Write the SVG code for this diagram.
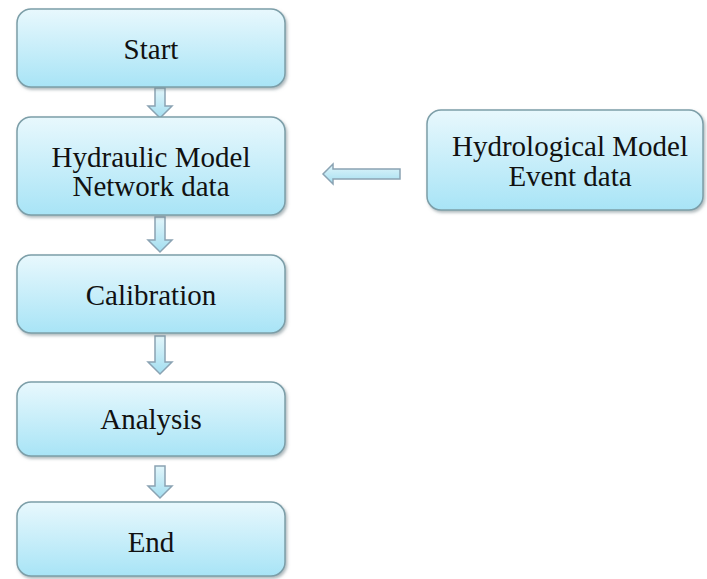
<svg xmlns="http://www.w3.org/2000/svg" width="707" height="579" viewBox="0 0 707 579">
  <defs>
    <linearGradient id="boxGrad" x1="0" y1="0" x2="0" y2="1">
      <stop offset="0" stop-color="#e8f8fd"/>
      <stop offset="1" stop-color="#a8e4f6"/>
    </linearGradient>
    <linearGradient id="arrowGrad" x1="0" y1="0" x2="0" y2="1">
      <stop offset="0" stop-color="#e2f6fb"/>
      <stop offset="1" stop-color="#a3def0"/>
    </linearGradient>
    <filter id="shadow" x="-10%" y="-10%" width="125%" height="130%">
      <feDropShadow dx="1.5" dy="2" stdDeviation="1.5" flood-color="#6d7f86" flood-opacity="0.55"/>
    </filter>
    <style>
      .box { fill: url(#boxGrad); stroke: #7c9ea8; stroke-width: 1.5; filter: url(#shadow); }
      .lbl { font-family: "Liberation Serif", "Times New Roman", serif; font-size: 29px; fill: #111111; text-anchor: middle; }
      .arr { fill: url(#arrowGrad); stroke: #8aa3b3; stroke-width: 1.5; stroke-linejoin: miter; }
    </style>
  </defs>
  <rect width="707" height="579" fill="#ffffff"/>

  <g id="connectors">
    <path class="arr" d="M155,88 H165 V106 H172 L160,118 L148,106 H155 Z"/>
    <path class="arr" d="M155,217 H165 V240 H172 L160,252 L148,240 H155 Z"/>
    <path class="arr" d="M155,336 H165 V362 H172 L160,374 L148,362 H155 Z"/>
    <path class="arr" d="M155,466 H165 V486 H172 L160,498 L148,486 H155 Z"/>
    <path class="arr" d="M400,169 V179 H333 V184 L323,174 L333,164 V169 Z"/>
  </g>

  <g id="start">
    <rect class="box" x="17" y="9" width="268" height="78" rx="14"/>
    <text class="lbl" x="151" y="59">Start</text>
  </g>
  <g id="hydraulic">
    <rect class="box" x="17" y="117" width="268" height="98" rx="14"/>
    <text class="lbl" x="151" y="167">Hydraulic Model</text>
    <text class="lbl" x="151" y="196">Network data</text>
  </g>
  <g id="hydrological">
    <rect class="box" x="427" y="110" width="276" height="100" rx="14"/>
    <text class="lbl" x="570" y="156">Hydrological Model</text>
    <text class="lbl" x="570" y="186">Event data</text>
  </g>
  <g id="calibration">
    <rect class="box" x="17" y="255" width="268" height="78" rx="14"/>
    <text class="lbl" x="151" y="305">Calibration</text>
  </g>
  <g id="analysis">
    <rect class="box" x="17" y="382" width="268" height="74" rx="14"/>
    <text class="lbl" x="151" y="429">Analysis</text>
  </g>
  <g id="end">
    <rect class="box" x="17" y="502" width="268" height="74" rx="14"/>
    <text class="lbl" x="151" y="552">End</text>
  </g>
</svg>
